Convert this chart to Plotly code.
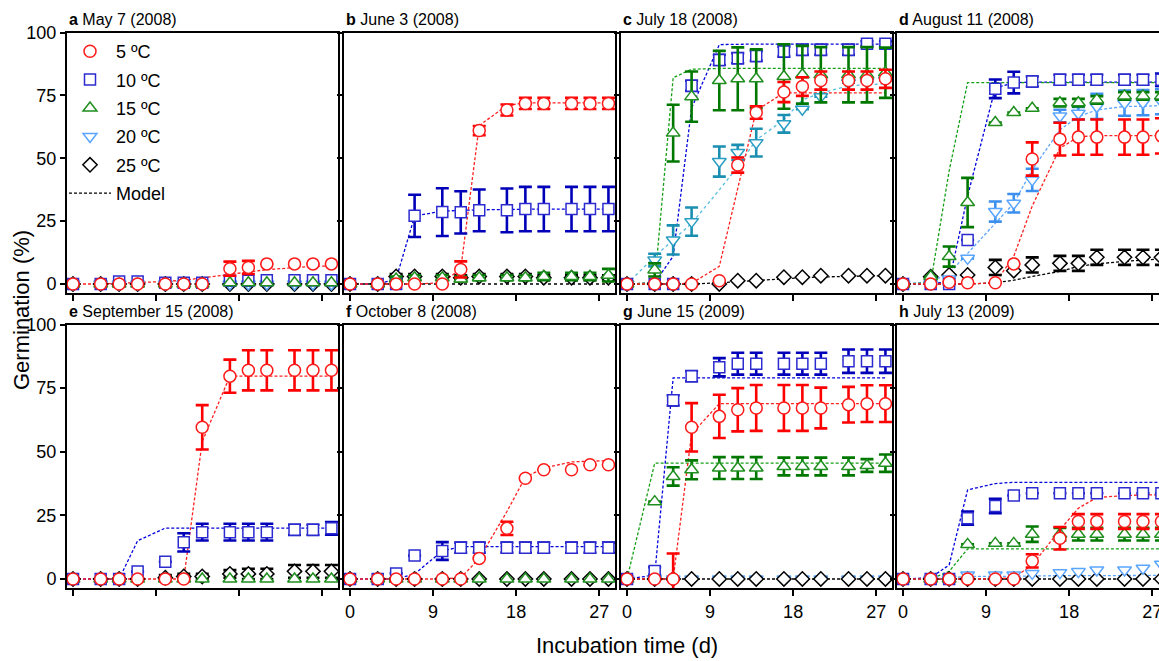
import plotly.graph_objects as go

W, H = 1159, 661
days = [0, 3, 5, 7, 10, 12, 14, 17, 19, 21, 24, 26, 28]
temp_labels = ["5 ºC", "10 ºC", "15 ºC", "20 ºC", "25 ºC"]
panel_letters = ["a", "b", "c", "d", "e", "f", "g", "h"]
panel_dates = ["May 7 (2008)", "June 3 (2008)", "July 18 (2008)", "August 11 (2008)",
               "September 15 (2008)", "October 8 (2008)", "June 15 (2009)", "July 13 (2009)"]
y_ticks = [0, 25, 50, 75, 100]
x_ticks = [0, 9, 18, 27]

# ---------------- panel a ----------------
a5 = [0, 0, 0, 0, 0, 0, 0, 6.1, 6.6, 8.0, 8.0, 8.0, 8.0]
a5e = [0, 0, 0, 0, 0, 0, 0, 2.8, 2.6, 0, 0, 0, 0]
a5m = [0, 0, 0.3, 0.5, 1, 1.5, 2.5, 4, 5, 5.7, 6.5, 7, 7.2]
a10 = [0, 0, 1, 1, 0.5, 0.5, 0.5, 1.3, 1.3, 1.5, 1.5, 1.5, 1.5]
a15 = [0, 0, 0, 0, 0, 0, 0, 0.5, 0.5, 0.5, 0.5, 0.5, 0.5]
a20 = [0, 0, 0, 0, 0, 0, 0, 0, 0, 0, 0, 0, 0]
a25 = [0, 0, 0, 0, 0, 0, 0, 0, 0, 0, 0, 0, 0]

# ---------------- panel b ----------------
b5 = [0, 0, 0, 0, 0, 5.8, 61.0, 69.2, 71.8, 71.8, 71.8, 71.8, 71.8]
b5e = [0, 0, 0, 0, 0, 3.2, 1.8, 2.2, 2.2, 2.2, 2.2, 2.2, 2.2]
b5m = [0, 0, 0, 0, 0.5, 6, 63, 71, 72, 72, 72, 72, 72]
b10 = [0, 0, 0, 27.1, 28.6, 28.5, 29.3, 29.3, 29.8, 29.8, 29.8, 29.8, 29.8]
b10e = [0, 0, 0, 8.4, 9.5, 8.4, 8.3, 8.7, 8.8, 8.8, 8.8, 8.8, 8.8]
b10m = [0, 0, 2, 27, 29, 29.3, 29.5, 29.6, 29.8, 29.8, 29.8, 29.8, 29.8]
b15 = [0, 0, 2, 2.5, 2.5, 2, 2.5, 2.5, 2.5, 3, 3, 3, 3.5]
b15e = [0, 0, 1, 1, 1, 1, 1, 1, 1, 1.5, 1.5, 1.5, 2.5]
b25 = [0, 0, 3, 3, 3, 2.5, 3, 3, 3, 2.5, 2.5, 2.5, 2.5]
b25e = [0, 0, 1, 1, 1, 1, 1, 1, 1, 1, 1, 1, 1]
b25m = [0, 0, 0, 0, 0, 0, 0, 0, 0, 0, 0, 0, 0]

# ---------------- panel c ----------------
c5 = [0, 0, 0, 0, 1.3, 47.3, 68.2, 76.3, 78.5, 80.9, 80.9, 80.9, 81.6]
c5e = [0, 0, 0, 0, 0, 3, 2.5, 4, 3.7, 3.6, 3.6, 3.6, 3.6]
c5m = [0, 0, 0, 0.3, 7, 38, 69, 76, 76, 76, 76, 76, 76]
c10 = [0, 0, 0, 78.8, 89.1, 89.8, 90.7, 92.4, 93.1, 93.1, 93.1, 95.5, 95.5]
c10e = [0, 0, 0, 2, 2, 2, 2, 2, 2, 2, 2, 1, 1]
c10m = [0, 0.5, 11, 70, 95.2, 95.4, 95.4, 95.4, 95.4, 95.4, 95.4, 95.4, 95.4]
c15 = [0, 5.6, 60, 74.5, 80.9, 81.6, 81.6, 82.5, 83.2, 83.2, 83.2, 83.2, 84]
c15e = [0, 2.6, 11.3, 10, 11.8, 12.5, 11.7, 12.8, 11.5, 11, 11, 11, 10]
c15m = [0, 0.5, 82, 85.4, 85.7, 85.7, 85.7, 85.7, 85.7, 85.7, 85.7, 85.7, 85.7]
c20 = [0, 9.5, 17.5, 24.8, 48.7, 52.3, 56.2, 63.7, 69.5, 74.5, 80, 80.5, 81]
c20e = [0, 2.5, 5.8, 5.6, 6, 3, 5.5, 3.5, 0, 0, 0, 0, 0]
c20m = [0, 10.9, 17.5, 24.1, 37.4, 46.7, 57.3, 65.3, 73.2, 75.9, 78.8, 79.2, 79.6]
c25 = [0, 0, 0, 0, 0, 1.3, 1.3, 2.7, 2.7, 3.3, 3.3, 3.3, 3.3]
c25m = [0, 0, 0, 0, 0.5, 1, 1.5, 2, 2.5, 2.8, 3, 3.2, 3.3]

# ---------------- panel d ----------------
d5 = [0, 0, 0.7, 0.5, 0.5, 8.0, 49.7, 57.6, 58.4, 58.4, 58.4, 58.4, 58.9]
d5e = [0, 0, 0, 0, 0, 0, 6.6, 6.5, 7, 7, 7, 7, 7]
d5m = [0, 0, 0, 0, 0.5, 11, 31, 54, 58.5, 59, 59, 59, 59]
d10 = [0, 0, 0, 17.5, 77.6, 80.1, 80.5, 81.2, 81.2, 81.2, 81.2, 81.2, 81.2]
d10e = [0, 0, 0, 0, 3.7, 4.3, 2, 2, 2, 2, 2, 2, 2.5]
d10m = [0, 0, 1, 35, 78, 80, 80.3, 80.3, 80.3, 80.3, 80.3, 80.3, 80.3]
d15 = [0, 3, 10.9, 32.4, 64.2, 68.2, 69.9, 72.1, 72.1, 73.2, 74.8, 74.8, 74.8]
d15e = [0, 0, 4, 9.8, 0, 0, 0, 1.5, 1.5, 1.5, 1.5, 1.5, 1.5]
d15m = [0, 0.5, 45, 80.1, 80.1, 80.1, 80.1, 80.1, 80.1, 80.1, 80.1, 80.1, 80.1]
d20 = [0, 0, 2, 10.2, 28.8, 32.1, 41.4, 66.8, 67.9, 70.6, 71.9, 72.1, 72.5]
d20e = [0, 0, 0, 0, 4, 3.7, 4.4, 2.5, 2.5, 5, 5, 5, 5]
d20m = [0, 0.9, 4.2, 12.2, 24.1, 32.1, 45.4, 61.3, 66.6, 69.2, 70.6, 70.6, 71]
d25 = [0, 2.9, 3.6, 3.6, 6.6, 5.3, 7.6, 8.2, 8.2, 10.6, 10.6, 10.6, 10.6]
d25e = [0, 0, 0, 0, 3, 0, 3, 3, 3, 3, 3, 3, 3]
d25m = [0, 0, 0, 0, 0.5, 1.5, 3, 5, 7, 8, 9, 9.5, 10]

# ---------------- panel e ----------------
e5 = [0, 0, 0, 0, 0, 0, 59.6, 79.7, 82, 82, 82, 82, 82]
e5e = [0, 0, 0, 0, 0, 0, 8.7, 6.5, 7.9, 7.9, 7.9, 7.9, 7.9]
e5m = [0, 0, 0, 0, 0, 0, 54, 79.7, 79.7, 79.7, 79.7, 79.7, 79.7]
e10 = [0, 0, 0, 2.9, 6.8, 14.4, 18.4, 18.4, 18.4, 18.4, 19.3, 19.3, 19.9]
e10e = [0, 0, 0, 0, 0, 3.6, 3.3, 3.3, 3.3, 3.3, 2, 2, 2.5]
e10m = [0, 0, 0, 15, 20, 20, 20, 20, 20, 20, 20, 20, 20]
e15 = [0, 0, 0, 0, 0, 0, 0, 0, 0, 0, 0, 0, 0]
e25 = [0, 0, 0, 0, 0.5, 1, 1, 2, 2, 2, 3, 3, 3]
e25e = [0, 0, 0, 0, 1, 1, 1, 1.5, 2, 2, 2.5, 2.5, 2.5]

# ---------------- panel f ----------------
f5 = [0, 0, 0, 0, 0, 0, 8.1, 19.9, 39.6, 42.9, 42.9, 44.9, 44.9]
f5e = [0, 0, 0, 0, 0, 0, 0, 2.6, 0, 0, 0, 0, 0]
f5m = [0, 0, 0, 0, 0, 0.5, 8, 26.5, 40, 43.6, 46, 46.3, 46.5]
f10 = [0, 0, 2.2, 9.2, 11.0, 12.3, 12.3, 12.3, 12.3, 12.3, 12.3, 12.3, 12.3]
f10e = [0, 0, 0, 0, 3.5, 2, 2, 2, 2, 2, 2, 2, 2]
f10m = [0, 0, 0, 2, 11, 12.7, 12.7, 12.7, 12.7, 12.7, 12.7, 12.7, 12.7]
f15 = [0, 0, 0, 0, 0, 0, 0, 0, 0, 0, 0, 0, 0]
f25 = [0, 0, 0, 0, 0, 0, 0, 0, 0, 0, 0, 0, 0]

# ---------------- panel g ----------------
g5 = [0, 0, 0, 59.6, 63.9, 66.5, 67.2, 67.2, 67.2, 67.2, 68.5, 68.9, 68.9]
g5e = [0, 0, 10, 9.5, 8.5, 8.5, 9, 9, 9, 8, 7, 7.2, 7.2]
g5m = [0, 0, 0, 57, 68.9, 68.9, 68.9, 68.9, 68.9, 68.9, 68.9, 68.9, 68.9]
g10 = [0, 3.1, 70.2, 79.7, 83.2, 84.6, 84.6, 84.6, 84.6, 84.6, 85.6, 85.6, 85.6]
g10e = [0, 1.5, 2, 2, 3.6, 4.3, 4.3, 4.3, 4.3, 4.3, 4.6, 4.6, 4.6]
g10m = [0, 1.5, 79, 79, 79, 79, 79, 79, 79, 79, 79, 79, 79]
g15 = [0, 30.4, 40.3, 42.9, 43.6, 43.6, 43.6, 44.2, 44.2, 44.2, 44.2, 44.6, 45.5]
g15e = [0, 0, 3.6, 3.7, 4.3, 4.3, 4.3, 3.5, 3.5, 3.5, 3.5, 2.5, 3.4]
g15m = [0, 45.5, 45.5, 45.5, 45.5, 45.5, 45.5, 45.5, 45.5, 45.5, 45.5, 45.5, 45.5]
g20 = [0, 0, 0, 0, 0, 0, 0, 0, 0, 0, 0, 0, 0]
g25 = [0, 0, 0, 0, 0, 0, 0, 0, 0, 0, 0, 0, 0]
g25m = [0, 0, 0, 0, 0, 0, 0, 0, 0, 0, 0, 0, 0]

# ---------------- panel h ----------------
h5 = [0, 0, 0, 0, 0, 0, 7.1, 16.0, 22.6, 22.6, 22.6, 22.6, 22.6]
h5e = [0, 0, 0, 0, 0, 0, 2.6, 4.4, 2.9, 2.9, 2.9, 2.9, 2.9]
h5m = [0, 0, 0, 0, 0, 0.5, 5.5, 19.3, 27.8, 32, 32.8, 33, 33.1]
h10 = [0, 0, 0, 23.9, 28.7, 32.8, 33.7, 33.7, 33.7, 33.7, 33.7, 33.7, 33.7]
h10e = [0, 0, 0, 2.6, 2.8, 0, 0, 0, 0, 0, 0, 0, 0]
h10m = [0, 0.5, 5.5, 35, 37.5, 38, 38, 38, 38, 38, 38, 38, 38]
h15 = [0, 0, 0, 13.6, 14, 14, 17.6, 17.6, 17.6, 17.6, 17.6, 17.6, 17.6]
h15e = [0, 0, 0, 0, 0, 0, 3, 2.5, 2.5, 2.5, 2.5, 2.5, 2.5]
h15m = [0, 0, 3, 11.8, 11.8, 11.8, 11.8, 11.8, 11.8, 11.8, 11.8, 11.8, 11.8]
h20 = [0, 0, 0, 1.6, 1.6, 1.6, 2.2, 2.5, 2.9, 3.5, 3.5, 4.2, 5.8]
h20m = [0, 0, 0.5, 1, 1, 1, 1.2, 1.3, 1.3, 1.4, 1.4, 1.4, 1.4]
h25 = [0, 0, 0, 0, 0, 0, 0, 0, 0, 0, 0, 0, 0]
h25m = [0, 0, 0, 0, 0, 0, 0, 0, 0, 0, 0, 0, 0]

# ---------------- styles ----------------
STYLE = {
    "5":  dict(symbol="circle", size=12, mcol="#ff1a1a", ecol="#ff0000", lcol="#ff2020", dash="3px,2px"),
    "10": dict(symbol="square", size=11, mcol="#2b2bd0", ecol="#0000b8", lcol="#0000dd", dash="3px,2px"),
    "15": dict(symbol="triangle-up", size=12, mcol="#1f8f1f", ecol="#007800", lcol="#14a014", dash="3px,2px"),
    "20": dict(symbol="triangle-down", size=12, mcol="#5aa5ff", ecol="#3d90ee", lcol="#5aa5ff", dash="3px,2px"),
    "25": dict(symbol="diamond", size=11, mcol="#000000", ecol="#000000", lcol="#000000", dash="3px,2px"),
}
STYLE_C20 = dict(symbol="triangle-down", size=12, mcol="#2a9ec2", ecol="#1a8fb2", lcol="#56bde0", dash="dot")

panels = [
    [("25", a25, None, None), ("20", a20, None, None), ("10", a10, None, None),
     ("15", a15, None, None), ("5", a5, a5e, a5m)],
    [("25", b25, b25e, b25m), ("10", b10, b10e, b10m), ("15", b15, b15e, None), ("5", b5, b5e, b5m)],
    [("25", c25, None, c25m), ("20", c20, c20e, c20m), ("10", c10, c10e, c10m),
     ("15", c15, c15e, c15m), ("5", c5, c5e, c5m)],
    [("25", d25, d25e, d25m), ("20", d20, d20e, d20m), ("10", d10, d10e, d10m),
     ("15", d15, d15e, d15m), ("5", d5, d5e, d5m)],
    [("25", e25, e25e, None), ("15", e15, None, None), ("10", e10, e10e, e10m), ("5", e5, e5e, e5m)],
    [("25", f25, None, None), ("15", f15, None, None), ("10", f10, f10e, f10m), ("5", f5, f5e, f5m)],
    [("20", g20, None, None), ("25", g25, None, g25m), ("15", g15, g15e, g15m),
     ("10", g10, g10e, g10m), ("5", g5, g5e, g5m)],
    [("25", h25, None, h25m), ("20", h20, None, h20m), ("15", h15, h15e, h15m),
     ("10", h10, h10e, h10m), ("5", h5, h5e, h5m)],
]

# ---------------- layout geometry (pixels) ----------------
col_left = [67, 344, 621, 897]
col_w = 271
rows = [(32.5, 293.0, -3.58), (324.5, 588.0, -3.54)]
px_per_day = 9.23

fig = go.Figure()
layout = dict(
    width=W, height=H, margin=dict(l=0, r=0, t=0, b=0, autoexpand=False),
    paper_bgcolor="white", plot_bgcolor="white",
    font=dict(family="Liberation Sans, Arial, sans-serif", color="black"),
    showlegend=True,
)
annotations = []

for i in range(8):
    r, c = divmod(i, 4)
    top, bot, ymin = rows[r]
    left = col_left[c]
    right = min(left + col_w, W)
    xmax = -0.65 + (right - left) / px_per_day
    n = i + 1
    xa = "xaxis" if n == 1 else f"xaxis{n}"
    ya = "yaxis" if n == 1 else f"yaxis{n}"
    xr = "x" if n == 1 else f"x{n}"
    yr = "y" if n == 1 else f"y{n}"
    show_x_labels = (r == 1 and c > 0)
    show_y_labels = (c == 0)
    layout[xa] = dict(
        domain=[left / W, right / W], range=[-0.65, xmax], anchor=yr, automargin=False,
        tickvals=x_ticks, showticklabels=show_x_labels, ticks="outside", ticklen=6,
        tickwidth=1.5, tickcolor="black", showline=True, linewidth=2, linecolor="black",
        mirror=True, showgrid=False, zeroline=False, tickfont=dict(size=18),
        ticklabeloverflow="allow",
    )
    layout[ya] = dict(
        domain=[1 - bot / H, 1 - top / H], range=[ymin, 100], anchor=xr, automargin=False,
        tickvals=y_ticks, showticklabels=show_y_labels, ticks="outside", ticklen=5,
        tickwidth=1.5, tickcolor="black", showline=True, linewidth=2, linecolor="black",
        mirror=(c != 3), showgrid=False, zeroline=False, tickfont=dict(size=18),
        ticklabeloverflow="allow",
    )
    annotations.append(dict(
        xref="paper", yref="paper", x=left / W, y=1 - (top - 13) / H,
        xanchor="left", yanchor="middle", showarrow=False,
        text=f"<b>{panel_letters[i]}</b> {panel_dates[i]}",
        font=dict(size=16, color="black"),
    ))

    for key, obs, err, model in panels[i]:
        st = STYLE_C20 if (i == 2 and key == "20") else STYLE[key]
        if model is not None:
            fig.add_trace(go.Scatter(
                x=days, y=model, mode="lines", xaxis=xr, yaxis=yr, showlegend=False,
                line=dict(color=st["lcol"], width=1.3,
                          dash=("dot" if (i == 1 and key == "25") else st["dash"])),
                hoverinfo="skip",
            ))
    for key, obs, err, model in panels[i]:
        st = STYLE_C20 if (i == 2 and key == "20") else STYLE[key]
        tr = dict(
            x=days, y=obs, mode="markers", xaxis=xr, yaxis=yr, showlegend=False,
            marker=dict(symbol=st["symbol"], size=st["size"], color="white",
                        line=dict(color=st["mcol"], width=1.5)),
            cliponaxis=True,
        )
        if err is not None:
            tr["error_y"] = dict(type="data", array=[e if e > 0 else None for e in err],
                                 visible=True, color=st["ecol"], thickness=2.6, width=6.5)
        fig.add_trace(go.Scatter(**tr))

# legend entries
for key, lab in zip(["5", "10", "15", "20", "25"], temp_labels):
    st = STYLE[key]
    fig.add_trace(go.Scatter(
        x=[None], y=[None], mode="markers", name=lab, legendgroup=lab,
        marker=dict(symbol=st["symbol"], size=st["size"], color="white",
                    line=dict(color=st["mcol"], width=1.5)),
    ))
fig.add_trace(go.Scatter(
    x=[None], y=[None], mode="lines", name="Model", legendgroup="Model",
    line=dict(color="black", width=1.3, dash="3px,2px"),
))

layout["legend"] = dict(
    x=64 / W, y=1 - 33 / H, xanchor="left", yanchor="top",
    bgcolor="rgba(0,0,0,0)", borderwidth=0, font=dict(size=18),
    traceorder="grouped", tracegroupgap=2, itemwidth=42,
)

annotations.append(dict(
    xref="paper", yref="paper", x=22 / W, y=1 - 310 / H, xanchor="center", yanchor="middle",
    text="Germination (%)", textangle=-90, showarrow=False, font=dict(size=22),
))
annotations.append(dict(
    xref="paper", yref="paper", x=627 / W, y=1 - 645 / H, xanchor="center", yanchor="middle",
    text="Incubation time (d)", showarrow=False, font=dict(size=22),
))
layout["annotations"] = annotations
fig.update_layout(**layout)
fig.write_html("out.html")
